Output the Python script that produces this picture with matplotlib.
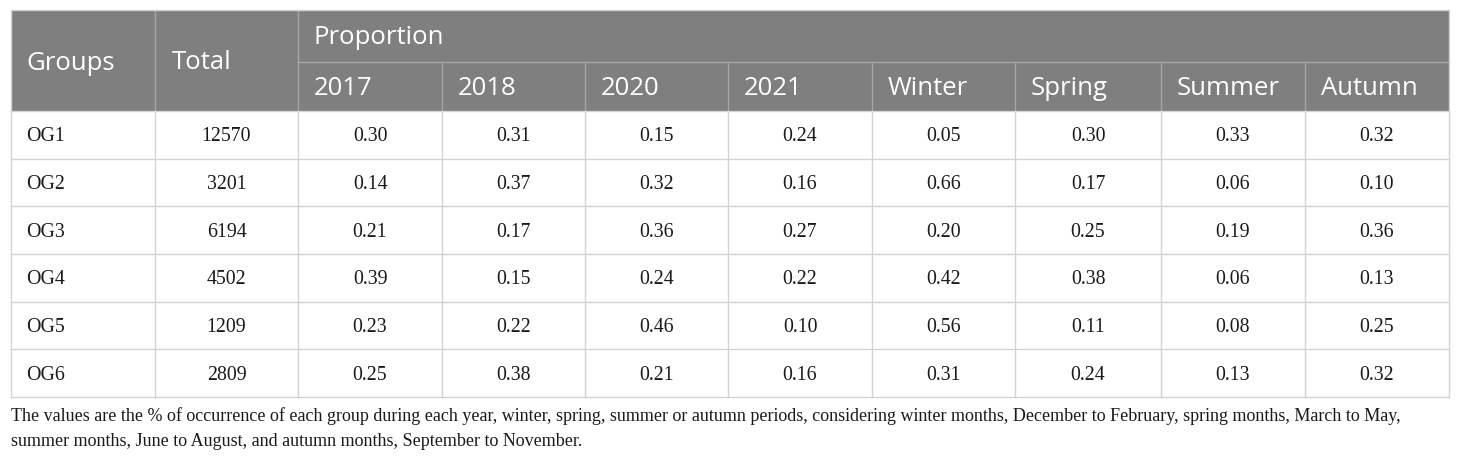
import matplotlib.pyplot as plt
from matplotlib.patches import Rectangle

groups = ["OG1", "OG2", "OG3", "OG4", "OG5", "OG6"]
totals = [12570, 3201, 6194, 4502, 1209, 2809]
sub_headers = ["2017", "2018", "2020", "2021", "Winter", "Spring", "Summer", "Autumn"]
p2017 = [0.30, 0.14, 0.21, 0.39, 0.23, 0.25]
p2018 = [0.31, 0.37, 0.17, 0.15, 0.22, 0.38]
p2020 = [0.15, 0.32, 0.36, 0.24, 0.46, 0.21]
p2021 = [0.24, 0.16, 0.27, 0.22, 0.10, 0.16]
winter = [0.05, 0.66, 0.20, 0.42, 0.56, 0.31]
spring = [0.30, 0.17, 0.25, 0.38, 0.11, 0.24]
summer = [0.33, 0.06, 0.19, 0.06, 0.08, 0.13]
autumn = [0.32, 0.10, 0.36, 0.13, 0.25, 0.32]
caption = ("The values are the % of occurrence of each group during each year, winter, spring, summer or autumn periods, "
           "considering winter months, December to February, spring months, March to May,\n"
           "summer months, June to August, and autumn months, September to November.")

# layout (pixels)
col_x = [11, 155, 298, 442, 585, 728, 872, 1015, 1161, 1305, 1449]
top, mid, head_bot = 10, 62, 111
row_h = 47.67
header_color = "#7f7f7f"
grid_color = "#d3d3d3"
head_line = "#a6a6a6"

fig = plt.figure(figsize=(14.6, 4.62), dpi=100)
ax = fig.add_axes([0, 0, 1, 1])
ax.set_xlim(0, 1460)
ax.set_ylim(462, 0)
ax.axis("off")

bottom = head_bot + row_h * len(groups)

# header block
ax.add_patch(Rectangle((col_x[0], top), col_x[-1] - col_x[0], head_bot - top,
                       facecolor=header_color, edgecolor="none"))
ax.plot([col_x[2], col_x[-1]], [mid, mid], color=head_line, lw=1)
for x in col_x[1:3]:
    ax.plot([x, x], [top, head_bot], color=head_line, lw=1)
for x in col_x[3:-1]:
    ax.plot([x, x], [mid, head_bot], color=head_line, lw=1)

hfont = dict(family="Open Sans", color="white", fontsize=18.5, va="center", ha="left")
ax.text(col_x[0] + 15, (top + head_bot) / 2 + 3, "Groups", **hfont)
ax.text(col_x[1] + 17, (top + head_bot) / 2 + 2, "Total", **hfont)
ax.text(col_x[2] + 16, (top + mid) / 2 + 2, "Proportion", **hfont)
for i, h in enumerate(sub_headers):
    ax.text(col_x[i + 2] + 16, (mid + head_bot) / 2 + 2, h, **hfont)

# body grid
for r in range(len(groups) + 1):
    y = head_bot + r * row_h
    ax.plot([col_x[0], col_x[-1]], [y, y], color=grid_color, lw=1)
for x in col_x:
    ax.plot([x, x], [head_bot, bottom], color=grid_color, lw=1)
ax.plot([col_x[0], col_x[0]], [top, head_bot], color=grid_color, lw=1)
ax.plot([col_x[-1], col_x[-1]], [top, head_bot], color=grid_color, lw=1)
ax.plot([col_x[0], col_x[-1]], [top, top], color=grid_color, lw=1)

bfont = dict(family="Liberation Serif", color="#1a1a1a", fontsize=14.3, va="center")
columns = [p2017, p2018, p2020, p2021, winter, spring, summer, autumn]
for r, g in enumerate(groups):
    yc = head_bot + r * row_h + row_h / 2 + 2
    ax.text(col_x[0] + 15, yc, g, ha="left", **bfont)
    ax.text((col_x[1] + col_x[2]) / 2, yc, str(totals[r]), ha="center", **bfont)
    for c, vals in enumerate(columns):
        ax.text((col_x[c + 2] + col_x[c + 3]) / 2, yc, "%.2f" % vals[r], ha="center", **bfont)

ax.text(col_x[0], bottom + 10, caption, ha="left", va="top", family="Liberation Serif",
        color="#1a1a1a", fontsize=12.95, linespacing=1.65)

fig.savefig("out.png", dpi=100)
